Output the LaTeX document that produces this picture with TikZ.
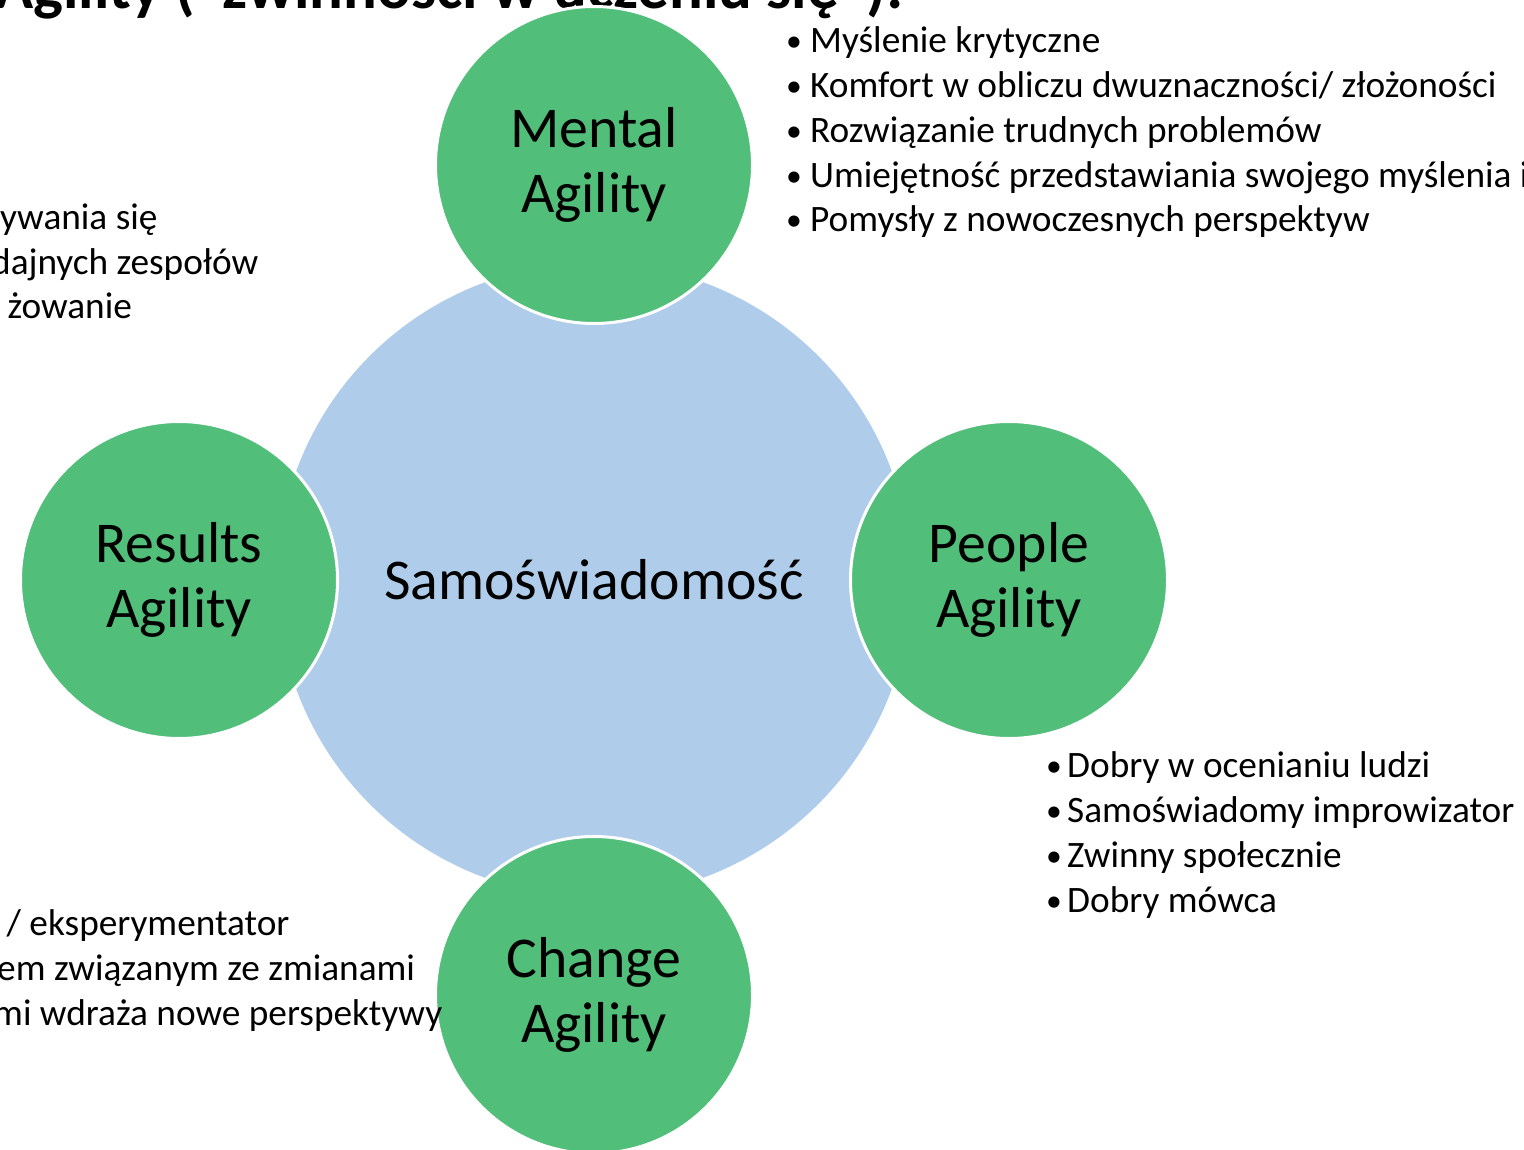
\documentclass[tikz,border=0pt]{standalone}
\usepackage{fontspec}
\setmainfont{Carlito}
\definecolor{agreen}{RGB}{81,190,121}
\definecolor{ablue}{RGB}{175,205,234}
\newcommand{\itembullet}[1]{\makebox[#1][l]{\raisebox{1pt}{\scalebox{0.85}{•}}}}
\begin{document}
\begin{tikzpicture}[x=1pt,y=-1pt,
  core/.style={circle,fill=ablue,minimum size=634pt,inner sep=0pt},
  agility/.style={circle,fill=agreen,draw=white,line width=3pt,minimum size=317pt,
    inner sep=0pt,align=center,font=\fontsize{57.7}{65}\selectfont},
  bullets/.style={anchor=base west,inner sep=0pt,align=left,
    font=\fontsize{37.3}{44.75}\selectfont},
  title/.style={anchor=base west,inner sep=0pt,font=\fontsize{63}{70}\selectfont\bfseries}]
\useasboundingbox (0,0) rectangle (1524,1150);
\clip (0,0) rectangle (1524,1150);

% heading, mostly above the page edge
\node[title] (heading) at (-5,9) {Agility (“zwinności w uczeniu się”):};

% central circle and the four agility circles
\node[core] (self) at (594,580) {};
\node[font=\fontsize{57.7}{65}\selectfont] (selflabel) at (594,580) {Samoświadomość};
\node[agility] (mental) at (594,165) {Mental\\Agility};
\node[agility] (results) at (179,580) {Results\\Agility};
\node[agility] (people) at (1009,580) {People\\Agility};
\node[agility] (change) at (594,995) {Change\\Agility};

% descriptive lists (anchored at the baseline of their last line)
\node[bullets] (mentallist) at (786,232) {%
  \itembullet{24pt}Myślenie krytyczne\\
  \itembullet{24pt}Komfort w obliczu dwuznaczności/ złożoności\\
  \itembullet{24pt}Rozwiązanie trudnych problemów\\
  \itembullet{24pt}Umiejętność przedstawiania swojego myślenia i\\
  \itembullet{24pt}Pomysły z nowoczesnych perspektyw};
\node[bullets] (peoplelist) at (1046,912) {%
  \itembullet{21pt}Dobry w ocenianiu ludzi\\
  \itembullet{21pt}Samoświadomy improwizator\\
  \itembullet{21pt}Zwinny społecznie\\
  \itembullet{21pt}Dobry mówca};
\node[bullets] (resultslist) at (0,319) {%
  ywania się\\
  \hspace*{-9pt}dajnych zespołów\\
  \hspace*{-1pt}\ żowanie};
\node[bullets] (changelist) at (0,1025) {%
  \hspace*{-2pt}\ / eksperymentator\\
  \hspace*{-3pt}em związanym ze zmianami\\
  \hspace*{-7pt}mi wdraża nowe perspektywy};
\end{tikzpicture}
\end{document}
